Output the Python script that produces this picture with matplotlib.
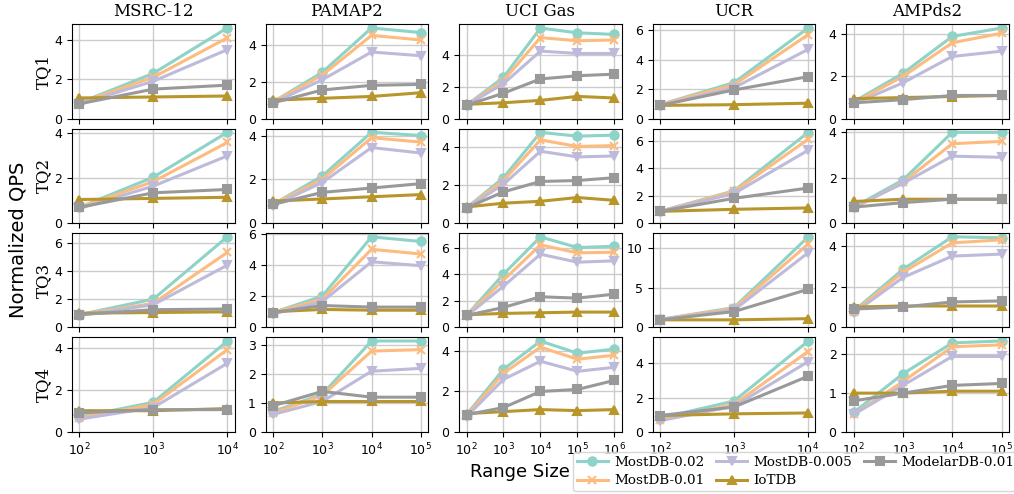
import numpy as np
import matplotlib
matplotlib.use("Agg")
import matplotlib.pyplot as plt
from matplotlib.ticker import MaxNLocator

datasets = ["MSRC-12", "PAMAP2", "UCI Gas", "UCR", "AMPds2"]
queries = ["TQ1", "TQ2", "TQ3", "TQ4"]
range_sizes = {
    "MSRC-12": [1e2, 1e3, 1e4],
    "PAMAP2": [1e2, 1e3, 1e4, 1e5],
    "UCI Gas": [1e2, 1e3, 1e4, 1e5, 1e6],
    "UCR": [1e2, 1e3, 1e4],
    "AMPds2": [1e2, 1e3, 1e4, 1e5],
}
methods = ["MostDB-0.02", "MostDB-0.01", "MostDB-0.005", "IoTDB", "ModelarDB-0.01"]
colors = {"MostDB-0.02": "#8dd3c7", "MostDB-0.01": "#fdbb7f", "MostDB-0.005": "#bebada",
          "IoTDB": "#b8962b", "ModelarDB-0.01": "#999999"}
markers = {"MostDB-0.02": "o", "MostDB-0.01": "x", "MostDB-0.005": "v",
           "IoTDB": "^", "ModelarDB-0.01": "s"}

# qps[dataset][query] = [0.02, 0.01, 0.005, IoTDB, ModelarDB]
qps = {
    "MSRC-12": {
        "TQ1": [[0.8, 2.3, 4.6], [0.8, 2.1, 4.1], [0.75, 1.9, 3.5], [1.05, 1.1, 1.15], [0.75, 1.5, 1.7]],
        "TQ2": [[0.7, 2.05, 4.05], [0.7, 1.85, 3.6], [0.65, 1.65, 3.0], [1.05, 1.1, 1.15], [0.7, 1.35, 1.5]],
        "TQ3": [[0.9, 2.0, 6.4], [0.9, 1.7, 5.3], [0.85, 1.6, 4.4], [1.0, 1.05, 1.1], [0.9, 1.25, 1.3]],
        "TQ4": [[0.7, 1.4, 4.3], [0.65, 1.3, 3.9], [0.6, 1.15, 3.25], [1.0, 1.0, 1.1], [0.9, 1.05, 1.05]],
    },
    "PAMAP2": {
        "TQ1": [[0.9, 2.5, 4.9, 4.65], [0.9, 2.35, 4.5, 4.25], [0.85, 2.1, 3.6, 3.4], [1.0, 1.1, 1.2, 1.4], [0.85, 1.55, 1.8, 1.85]],
        "TQ2": [[0.85, 2.15, 4.15, 4.0], [0.85, 2.0, 3.9, 3.7], [0.8, 1.85, 3.45, 3.2], [1.0, 1.1, 1.2, 1.3], [0.85, 1.4, 1.6, 1.8]],
        "TQ3": [[0.95, 2.0, 5.8, 5.5], [0.95, 1.8, 5.0, 4.7], [0.85, 1.65, 4.2, 3.95], [1.0, 1.15, 1.1, 1.1], [0.95, 1.4, 1.3, 1.3]],
        "TQ4": [[0.7, 1.3, 3.15, 3.15], [0.65, 1.25, 2.8, 2.85], [0.6, 1.05, 2.1, 2.2], [1.0, 1.05, 1.05, 1.05], [0.9, 1.4, 1.2, 1.2]],
    },
    "UCI Gas": {
        "TQ1": [[0.85, 2.6, 5.7, 5.4, 5.3], [0.85, 2.4, 5.1, 4.9, 4.95], [0.85, 2.2, 4.25, 4.1, 4.1], [0.9, 1.0, 1.15, 1.4, 1.3], [0.85, 1.6, 2.5, 2.7, 2.8]],
        "TQ2": [[0.8, 2.4, 4.8, 4.6, 4.65], [0.8, 2.25, 4.4, 4.05, 4.1], [0.8, 2.05, 3.8, 3.5, 3.55], [0.85, 1.05, 1.15, 1.35, 1.2], [0.8, 1.65, 2.2, 2.25, 2.4]],
        "TQ3": [[0.9, 4.0, 6.8, 6.0, 6.1], [0.9, 3.55, 6.2, 5.6, 5.65], [0.85, 3.1, 5.5, 4.9, 5.0], [0.95, 1.05, 1.1, 1.15, 1.15], [0.9, 1.5, 2.3, 2.2, 2.5]],
        "TQ4": [[0.85, 3.1, 4.5, 3.9, 4.1], [0.8, 2.9, 4.2, 3.6, 3.8], [0.75, 2.6, 3.5, 3.0, 3.2], [0.9, 1.0, 1.1, 1.05, 1.1], [0.85, 1.2, 2.0, 2.1, 2.55]],
    },
    "UCR": {
        "TQ1": [[0.95, 2.45, 6.15], [0.95, 2.3, 5.7], [0.9, 2.1, 4.7], [0.9, 0.95, 1.05], [0.9, 1.95, 2.85]],
        "TQ2": [[0.85, 2.35, 6.6], [0.85, 2.3, 6.1], [0.85, 2.15, 5.3], [0.85, 1.0, 1.1], [0.85, 1.8, 2.55]],
        "TQ3": [[1.0, 2.5, 11.4], [1.0, 2.4, 10.5], [0.95, 2.2, 9.4], [0.95, 0.95, 1.1], [0.95, 2.0, 4.8]],
        "TQ4": [[0.8, 1.8, 5.3], [0.7, 1.6, 4.7], [0.65, 1.5, 4.1], [0.95, 1.05, 1.1], [0.95, 1.45, 3.25]],
    },
    "AMPds2": {
        "TQ1": [[0.8, 2.15, 3.9, 4.3], [0.75, 2.0, 3.6, 4.05], [0.7, 1.7, 2.95, 3.2], [0.95, 1.0, 1.05, 1.1], [0.75, 0.9, 1.1, 1.1]],
        "TQ2": [[0.7, 1.9, 4.0, 4.0], [0.65, 1.8, 3.5, 3.6], [0.7, 1.75, 2.95, 2.9], [0.95, 1.05, 1.05, 1.05], [0.7, 0.9, 1.05, 1.05]],
        "TQ3": [[0.8, 2.85, 4.45, 4.4], [0.75, 2.7, 4.15, 4.3], [0.7, 2.45, 3.5, 3.6], [1.0, 1.05, 1.05, 1.05], [0.9, 1.0, 1.25, 1.3]],
        "TQ4": [[0.5, 1.5, 2.3, 2.35], [0.45, 1.3, 2.2, 2.25], [0.45, 1.2, 1.95, 1.95], [1.0, 1.0, 1.05, 1.05], [0.8, 1.0, 1.2, 1.25]],
    },
}

fig, axes = plt.subplots(4, 5, figsize=(10.14, 4.94), dpi=100)
fig.subplots_adjust(left=0.071, right=0.995, top=0.951, bottom=0.126, wspace=0.19, hspace=0.105)

for c, ds in enumerate(datasets):
    xs = range_sizes[ds]
    for r, q in enumerate(queries):
        ax = axes[r, c]
        for m, vals in zip(methods, qps[ds][q]):
            ax.plot(xs, vals, color=colors[m], marker=markers[m], lw=2.2, ms=6,
                    mew=1.5, label=m)
        ax.set_xscale("log")
        ax.set_xticks(xs)
        ax.minorticks_off()
        ax.set_ylim(bottom=0)
        ax.yaxis.set_major_locator(MaxNLocator(nbins=4, steps=[1, 2, 5, 10], integer=True))
        ax.grid(True, color="#cccccc", lw=1)
        ax.set_axisbelow(True)
        ax.tick_params(labelsize=9)
        if r < 3:
            ax.set_xticklabels([])
        if r == 0:
            ax.set_title(ds, family="DejaVu Serif", fontsize=12)
        if c == 0:
            ax.set_ylabel(q, family="DejaVu Serif", fontsize=12)
            ax.yaxis.set_label_coords(-0.125, 0.5)

fig.text(0.018, 0.515, "Normalized QPS", rotation=90, fontsize=14, va="center", ha="center")
fig.text(0.513, 0.045, "Range Size", fontsize=13, ha="center", va="center")

handles, labels = axes[0, 0].get_legend_handles_labels()
fig.legend(handles, labels, loc="upper left", bbox_to_anchor=(0.565, 0.085), ncol=3,
           borderaxespad=0, prop={"family": "DejaVu Serif", "size": 9.7},
           handlelength=2.3, columnspacing=0.9, handletextpad=0.45,
           labelspacing=0.4, borderpad=0.3)

fig.savefig("out.png", dpi=100)
